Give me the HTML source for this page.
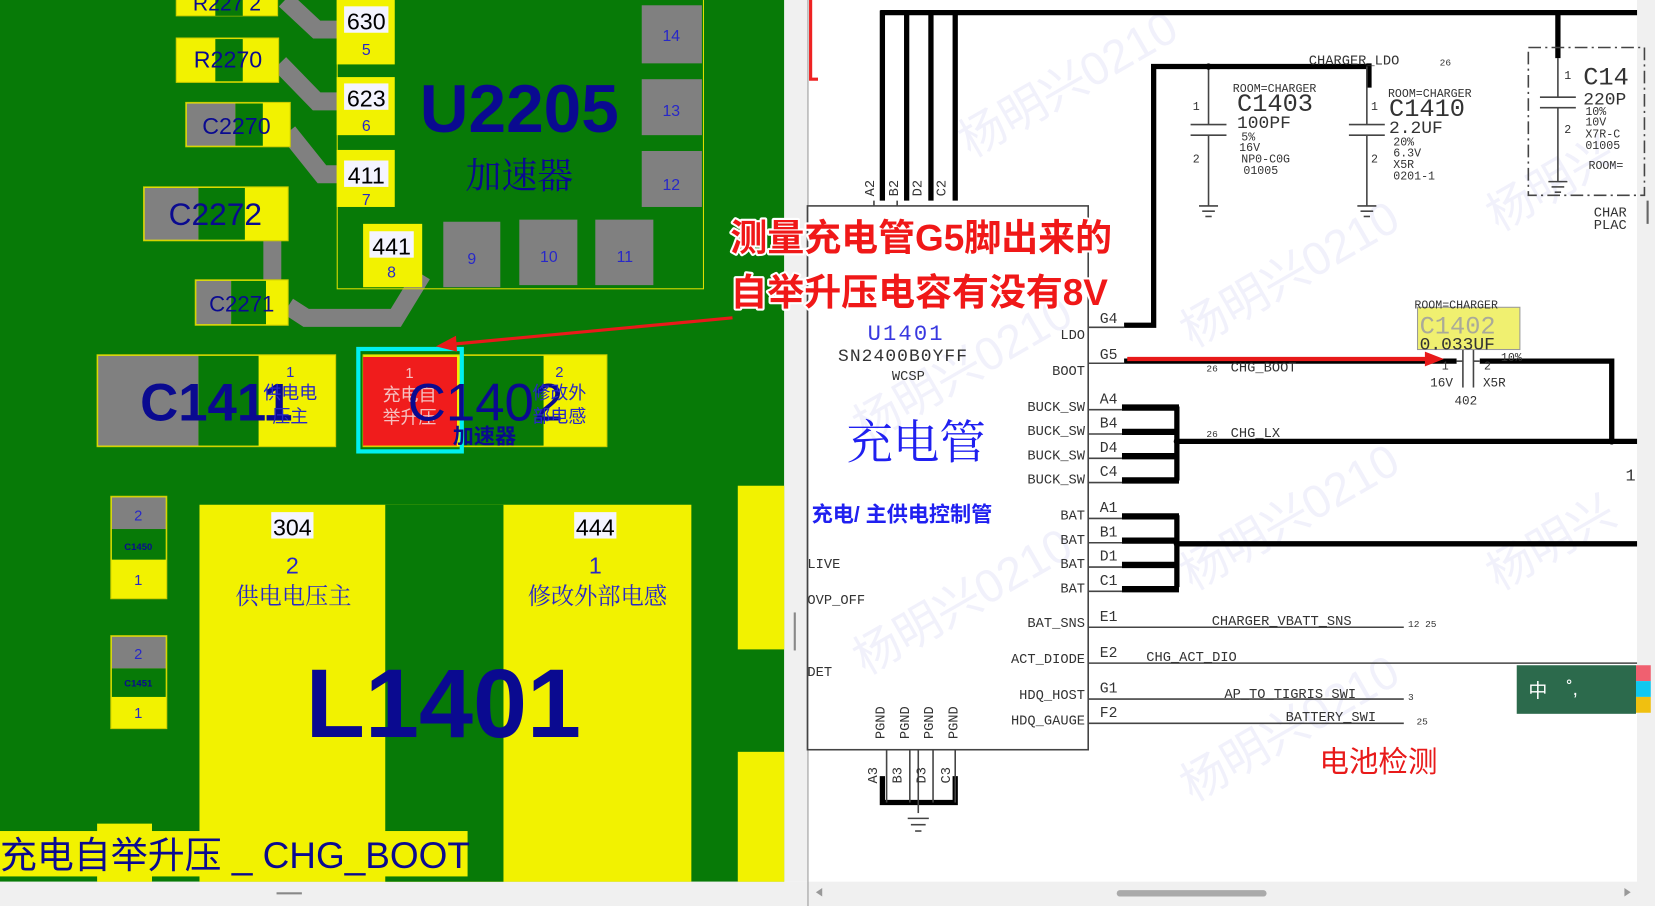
<!DOCTYPE html>
<html><head><meta charset="utf-8"><style>
html,body{margin:0;padding:0;background:#fff;overflow:hidden}
svg{display:block}
.m{font-family:"Liberation Mono",monospace;fill:#333}
.s{font-family:"Liberation Sans","Noto Sans CJK SC",sans-serif}
.c{font-family:"Liberation Sans","Noto Sans CJK SC",sans-serif}
</style></head><body>
<svg width="1655" height="906" viewBox="0 0 1568 858" preserveAspectRatio="none" xmlns="http://www.w3.org/2000/svg">
<!-- LEFT PCB -->
<rect x="0" y="0" width="743" height="835" fill="#077a07"/>
<rect x="0" y="835" width="765" height="23" fill="#f0f0f0"/>
<rect x="262" y="845" width="24" height="2" fill="#888"/>
<rect x="743" y="0" width="22" height="835" fill="#f0f0f0"/>
<rect x="752" y="580" width="2" height="36" fill="#888"/>
<line x1="765.5" y1="0" x2="765.5" y2="858" stroke="#999" stroke-width="1"/>
<g fill="none" stroke="#808080" stroke-width="17" stroke-linejoin="miter">
<polyline points="270,0 300,28 320,28"/>
<polyline points="265,60 300,96 320,96"/>
<polyline points="273,125 305,165 320,165"/>
<polyline points="258,228 258,265"/>
<polyline points="273,290 290,301 375,301 400,260"/>
</g>
<!-- R227x top -->
<rect x="167" y="-2" width="96" height="17" fill="#f2f200" stroke="#cc0" />
<rect x="204" y="-2" width="26" height="17" fill="#077a07"/>
<text x="215" y="10" class="s" font-size="20" fill="#0a0a90" text-anchor="middle">R227 2</text>
<!-- R2270 -->
<rect x="167" y="36" width="97" height="42" fill="#f2f200" stroke="#cc0"/>
<rect x="204" y="37" width="26" height="40" fill="#077a07"/>
<text x="216" y="64" class="s" font-size="22" fill="#0a0a90" text-anchor="middle">R2270</text>
<!-- C2270 -->
<rect x="176" y="97" width="99" height="42" fill="#f2f200" stroke="#cc0"/>
<rect x="177" y="98" width="46" height="40" fill="#808080"/>
<rect x="223" y="98" width="26" height="40" fill="#077a07"/>
<text x="224" y="127" class="s" font-size="22" fill="#0a0a90" text-anchor="middle">C2270</text>
<!-- C2272 -->
<rect x="136" y="177" width="137" height="51" fill="#f2f200" stroke="#cc0"/>
<rect x="137" y="178" width="51" height="49" fill="#808080"/>
<rect x="188" y="178" width="44" height="49" fill="#077a07"/>
<text x="204" y="213" class="s" font-size="30" fill="#0a0a90" text-anchor="middle">C2272</text>
<!-- C2271 -->
<rect x="185" y="265" width="88" height="43" fill="#f2f200" stroke="#cc0"/>
<rect x="186" y="266" width="33" height="41" fill="#808080"/>
<rect x="219" y="266" width="33" height="41" fill="#077a07"/>
<text x="229" y="295" class="s" font-size="21" fill="#0a0a90" text-anchor="middle">C2271</text>
<!-- U2205 -->
<rect x="319.5" y="-2" width="347" height="275.5" fill="none" stroke="#dede00" stroke-width="1"/>
<g class="s" text-anchor="middle">
<rect x="319" y="0" width="55" height="61" fill="#f2f200"/>
<rect x="326" y="6" width="42" height="25" fill="#f4f4ff"/>
<text x="347" y="28" font-size="22" fill="#000">630</text>
<text x="347" y="52" font-size="15" fill="#2828c8">5</text>
<rect x="319" y="73" width="55" height="55" fill="#f2f200"/>
<rect x="326" y="79" width="42" height="25" fill="#f4f4ff"/>
<text x="347" y="101" font-size="22" fill="#000">623</text>
<text x="347" y="124" font-size="15" fill="#2828c8">6</text>
<rect x="319" y="142" width="55" height="54" fill="#f2f200"/>
<rect x="326" y="152" width="42" height="25" fill="#f4f4ff"/>
<text x="347" y="174" font-size="22" fill="#000">411</text>
<text x="347" y="194" font-size="15" fill="#2828c8">7</text>
<rect x="344" y="212" width="56" height="60" fill="#f2f200"/>
<rect x="350" y="219" width="42" height="25" fill="#f4f4ff"/>
<text x="371" y="241" font-size="22" fill="#000">441</text>
<text x="371" y="263" font-size="15" fill="#2828c8">8</text>
<rect x="608" y="5" width="57" height="55" fill="#808080"/>
<text x="636" y="39" font-size="15" fill="#2828c8">14</text>
<rect x="608" y="75" width="57" height="53" fill="#808080"/>
<text x="636" y="110" font-size="15" fill="#2828c8">13</text>
<rect x="608" y="143" width="57" height="53" fill="#808080"/>
<text x="636" y="180" font-size="15" fill="#2828c8">12</text>
<rect x="420" y="210" width="54" height="62" fill="#808080"/>
<text x="447" y="250" font-size="15" fill="#2828c8">9</text>
<rect x="492" y="208" width="55" height="62" fill="#808080"/>
<text x="520" y="248" font-size="15" fill="#2828c8">10</text>
<rect x="564" y="208" width="55" height="62" fill="#808080"/>
<text x="592" y="248" font-size="15" fill="#2828c8">11</text>
<text x="492" y="125" font-size="64" font-weight="bold" fill="#0a0a90">U2205</text>
<text x="492" y="178" font-size="34" fill="#0a0a90" font-family="'Noto Serif CJK SC',serif">加速器</text>
</g>
<!-- C1411 -->
<rect x="92" y="336" width="226" height="87" fill="#f2f200" stroke="#cc0"/>
<rect x="93" y="337" width="95" height="85" fill="#808080"/>
<rect x="188" y="337" width="57" height="85" fill="#077a07"/>
<g class="s" text-anchor="middle">
<text x="205" y="398" font-size="50" font-weight="bold" fill="#0a0a90">C1411</text>
<text x="275" y="357" font-size="14" fill="#2828c8">1</text>
<text x="275" y="378" font-size="17" fill="#2828c8">供电电</text>
<text x="275" y="400" font-size="17" fill="#2828c8">压主</text>
</g>
<!-- C1402 -->
<rect x="344" y="336" width="231" height="87" fill="#f2f200" stroke="#cc0"/>
<rect x="439" y="337" width="76" height="85" fill="#077a07"/>
<rect x="344" y="338" width="89" height="84" fill="#f01c1c"/>
<rect x="339.5" y="330.5" width="98" height="97" fill="none" stroke="#00f0f0" stroke-width="4"/>
<g class="s" text-anchor="middle">
<text x="388" y="358" font-size="14" fill="#f5c0c0">1</text>
<text x="388" y="380" font-size="17" fill="#f5c0c0">充电自</text>
<text x="388" y="401" font-size="17" fill="#f5c0c0">举升压</text>
<text x="460" y="398" font-size="50" fill="#0a0a90">C1402</text>
<text x="530" y="357" font-size="14" fill="#2828c8">2</text>
<text x="530" y="378" font-size="17" fill="#2828c8">修改外</text>
<text x="530" y="400" font-size="17" fill="#2828c8">部电感</text>
<text x="459" y="420" font-size="20" font-weight="bold" fill="#0a0a90">加速器</text>
</g>
<!-- C1450 / C1451 -->
<g class="s" text-anchor="middle">
<rect x="105" y="470" width="53" height="97" fill="#f2f200" stroke="#cc0"/>
<rect x="106" y="471" width="51" height="30" fill="#808080"/>
<rect x="106" y="501" width="51" height="29" fill="#077a07"/>
<text x="131" y="493" font-size="14" fill="#2828c8">2</text>
<text x="131" y="521" font-size="9" font-weight="bold" fill="#0a0a90">C1450</text>
<text x="131" y="554" font-size="14" fill="#2828c8">1</text>
<rect x="105" y="602" width="53" height="88" fill="#f2f200" stroke="#cc0"/>
<rect x="106" y="603" width="51" height="30" fill="#808080"/>
<rect x="106" y="633" width="51" height="27" fill="#077a07"/>
<text x="131" y="624" font-size="14" fill="#2828c8">2</text>
<text x="131" y="650" font-size="9" font-weight="bold" fill="#0a0a90">C1451</text>
<text x="131" y="680" font-size="14" fill="#2828c8">1</text>
</g>
<!-- L1401 -->
<rect x="189" y="478" width="466" height="357" fill="#f2f200"/>
<rect x="365" y="478" width="112" height="357" fill="#077a07"/>
<g class="s" text-anchor="middle">
<rect x="257" y="485" width="40" height="25" fill="#f4f4ff"/>
<text x="277" y="507" font-size="22" fill="#000">304</text>
<rect x="544" y="485" width="40" height="25" fill="#f4f4ff"/>
<text x="564" y="507" font-size="22" fill="#000">444</text>
<text x="277" y="543" font-size="22" fill="#2828c8">2</text>
<text x="564" y="543" font-size="22" fill="#2828c8">1</text>
<text x="278" y="572" font-size="22" fill="#2828c8" font-family="'Noto Serif CJK SC',serif">供电电压主</text>
<text x="566" y="572" font-size="22" fill="#2828c8" font-family="'Noto Serif CJK SC',serif">修改外部电感</text>
<text x="420" y="698" font-size="92" font-weight="bold" fill="#0a0a90">L1401</text>
</g>
<rect x="699" y="460" width="44" height="155" fill="#f2f200"/>
<rect x="699" y="712" width="44" height="123" fill="#f2f200"/>
<rect x="92" y="780" width="52" height="55" fill="#f2f200"/>
<rect x="0" y="787" width="443" height="43" fill="#f2f200"/>
<text x="0" y="822" class="s" font-size="35" fill="#0a0a90">充电自举升压 _ CHG_BOOT</text>

<!-- RIGHT SCHEMATIC -->
<rect x="766" y="0" width="785" height="835" fill="#fff"/>
<rect x="1551" y="0" width="17" height="858" fill="#f0f0f0"/>
<rect x="766" y="835" width="785" height="23" fill="#f0f0f0"/>
<rect x="1058" y="843" width="142" height="6" rx="3" fill="#aaa"/>
<rect x="1560" y="190" width="2" height="22" fill="#666"/>
<g class="s" font-size="44" fill="#f1f1fb" >
<text transform="translate(920,150) rotate(-30)">杨明兴0210</text>
<text transform="translate(1130,330) rotate(-30)">杨明兴0210</text>
<text transform="translate(1130,560) rotate(-30)">杨明兴0210</text>
<text transform="translate(820,420) rotate(-30)">杨明兴0210</text>
<text transform="translate(820,640) rotate(-30)">杨明兴0210</text>
<text transform="translate(1420,220) rotate(-30)">杨明兴</text>
<text transform="translate(1420,560) rotate(-30)">杨明兴</text>
<text transform="translate(1130,760) rotate(-30)">杨明兴0210</text>
</g>
<polyline points="768,0 768,75 775,75" fill="none" stroke="#e22" stroke-width="3"/>
<g stroke="#000" stroke-width="5" fill="none">
<line x1="834" y1="12" x2="1551" y2="12"/>
<line x1="836" y1="10" x2="836" y2="190"/>
<line x1="859" y1="10" x2="859" y2="190"/>
<line x1="882" y1="10" x2="882" y2="190"/>
<line x1="905" y1="10" x2="905" y2="190"/>
<polyline points="1065,308 1093,308 1093,63 1298,63"/>
<line x1="1297" y1="60" x2="1297" y2="83"/>
<line x1="1476" y1="10" x2="1476" y2="55"/>
<line x1="1065" y1="342" x2="1380" y2="342"/>
<polyline points="1402,342 1527,342 1527,418"/>
<line x1="1115" y1="418" x2="1551" y2="418"/>
<line x1="1115" y1="515" x2="1551" y2="515"/>
<line x1="1115" y1="385" x2="1115" y2="455"/>
<line x1="1115" y1="488" x2="1115" y2="556"/>
<polyline points="836,735 836,760 905,760 905,735"/>
</g>
<g stroke="#000" stroke-width="6">
<line x1="1063" y1="386" x2="1117" y2="386"/>
<line x1="1063" y1="409" x2="1117" y2="409"/>
<line x1="1063" y1="432" x2="1117" y2="432"/>
<line x1="1063" y1="455" x2="1117" y2="455"/>
<line x1="1063" y1="489" x2="1117" y2="489"/>
<line x1="1063" y1="512" x2="1117" y2="512"/>
<line x1="1063" y1="535" x2="1117" y2="535"/>
<line x1="1063" y1="558" x2="1117" y2="558"/>
</g>
<g stroke="#444" stroke-width="1.5" fill="none">
<rect x="765" y="195" width="266" height="515"/>
<line x1="1031" y1="310" x2="1065" y2="310"/>
<line x1="1031" y1="344" x2="1065" y2="344"/>
<line x1="1031" y1="388" x2="1063" y2="388"/>
<line x1="1031" y1="411" x2="1063" y2="411"/>
<line x1="1031" y1="434" x2="1063" y2="434"/>
<line x1="1031" y1="457" x2="1063" y2="457"/>
<line x1="1031" y1="491" x2="1063" y2="491"/>
<line x1="1031" y1="514" x2="1063" y2="514"/>
<line x1="1031" y1="537" x2="1063" y2="537"/>
<line x1="1031" y1="560" x2="1063" y2="560"/>
<line x1="1031" y1="594" x2="1330" y2="594"/>
<line x1="1031" y1="628" x2="1551" y2="628"/>
<line x1="1031" y1="662" x2="1330" y2="662"/>
<line x1="1031" y1="685" x2="1330" y2="685"/>
<line x1="828" y1="190" x2="828" y2="195"/><line x1="850" y1="190" x2="850" y2="195"/>
<line x1="870" y1="710" x2="870" y2="770"/>
<line x1="840" y1="710" x2="840" y2="760"/><line x1="862" y1="710" x2="862" y2="760"/>
<line x1="884" y1="710" x2="884" y2="760"/><line x1="905" y1="710" x2="905" y2="760"/>
<line x1="860" y1="775" x2="880" y2="775"/><line x1="863" y1="781" x2="877" y2="781"/><line x1="867" y1="787" x2="873" y2="787"/>
<line x1="1145" y1="63" x2="1145" y2="118"/><line x1="1128" y1="118" x2="1162" y2="118"/>
<line x1="1128" y1="128" x2="1162" y2="128"/><line x1="1145" y1="128" x2="1145" y2="195"/>
<line x1="1136" y1="195" x2="1154" y2="195"/><line x1="1139" y1="200" x2="1151" y2="200"/><line x1="1142" y1="205" x2="1148" y2="205"/>
<line x1="1295" y1="63" x2="1295" y2="118"/><line x1="1278" y1="118" x2="1312" y2="118"/>
<line x1="1278" y1="128" x2="1312" y2="128"/><line x1="1295" y1="128" x2="1295" y2="195"/>
<line x1="1286" y1="195" x2="1304" y2="195"/><line x1="1289" y1="200" x2="1301" y2="200"/><line x1="1292" y1="205" x2="1298" y2="205"/>
<line x1="1476" y1="55" x2="1476" y2="92"/><line x1="1459" y1="92" x2="1493" y2="92"/>
<line x1="1459" y1="102" x2="1493" y2="102"/><line x1="1476" y1="102" x2="1476" y2="172"/>
<line x1="1467" y1="172" x2="1485" y2="172"/><line x1="1470" y1="177" x2="1482" y2="177"/><line x1="1473" y1="182" x2="1479" y2="182"/>
<rect x="1448" y="45" width="110" height="140" stroke-dasharray="12,4,2,4"/>
<line x1="1380" y1="342" x2="1386" y2="342"/><line x1="1396" y1="342" x2="1402" y2="342"/>
<line x1="1386" y1="330" x2="1386" y2="367"/><line x1="1396" y1="330" x2="1396" y2="367"/>
</g>
<circle cx="1145" cy="63" r="3"/><circle cx="1115" cy="418" r="3"/><circle cx="1115" cy="515" r="3"/><circle cx="1527" cy="418" r="3"/>
<g class="m" font-size="14">
<text x="1042" y="306">G4</text><text x="1042" y="340">G5</text>
<text x="1042" y="382">A4</text><text x="1042" y="405">B4</text><text x="1042" y="428">D4</text><text x="1042" y="451">C4</text>
<text x="1042" y="485">A1</text><text x="1042" y="508">B1</text><text x="1042" y="531">D1</text><text x="1042" y="554">C1</text>
<text x="1042" y="588">E1</text><text x="1042" y="622">E2</text><text x="1042" y="656">G1</text><text x="1042" y="679">F2</text>
</g>
<g class="m" font-size="13">
<g text-anchor="end">
<text x="1028" y="321">LDO</text><text x="1028" y="355">BOOT</text>
<text x="1028" y="389">BUCK_SW</text><text x="1028" y="412">BUCK_SW</text><text x="1028" y="435">BUCK_SW</text><text x="1028" y="458">BUCK_SW</text>
<text x="1028" y="492">BAT</text><text x="1028" y="515">BAT</text><text x="1028" y="538">BAT</text><text x="1028" y="561">BAT</text>
<text x="1028" y="594">BAT_SNS</text><text x="1028" y="628">ACT_DIODE</text><text x="1028" y="662">HDQ_HOST</text><text x="1028" y="686">HDQ_GAUGE</text>
</g>
<text x="765" y="538">LIVE</text><text x="765" y="572">OVP_OFF</text><text x="765" y="640">DET</text>
<text x="1148" y="592">CHARGER_VBATT_SNS</text><text x="1334" y="594" font-size="9">12 25</text>
<text x="1086" y="626">CHG_ACT_DIO</text>
<text x="1160" y="661">AP_TO_TIGRIS_SWI</text><text x="1334" y="663" font-size="9">3</text>
<text x="1218" y="683">BATTERY_SWI</text><text x="1342" y="686" font-size="9">25</text>
<text x="1240" y="61">CHARGER_LDO</text><text x="1364" y="62" font-size="9">26</text>
<text x="1166" y="352">CHG_BOOT</text><text x="1143" y="352" font-size="9">26</text>
<text x="1166" y="414">CHG_LX</text><text x="1143" y="414" font-size="9">26</text>
<text x="1540" y="455" font-size="16">1</text>
<text x="1510" y="205">CHAR</text><text x="1510" y="217">PLAC</text>
<text x="794" y="342" font-size="17" letter-spacing="1">SN2400B0YFF</text>
<text x="845" y="360">WCSP</text>
<text x="822" y="322" font-size="21" fill="#3838e0" letter-spacing="2">U1401</text>
<g font-size="13">
<text transform="translate(828,186) rotate(-90)">A2</text><text transform="translate(851,186) rotate(-90)">B2</text>
<text transform="translate(873,186) rotate(-90)">D2</text><text transform="translate(896,186) rotate(-90)">C2</text>
<text transform="translate(831,742) rotate(-90)">A3</text><text transform="translate(854,742) rotate(-90)">B3</text>
<text transform="translate(877,742) rotate(-90)">D3</text><text transform="translate(900,742) rotate(-90)">C3</text>
<text transform="translate(838,700) rotate(-90)">PGND</text><text transform="translate(861,700) rotate(-90)">PGND</text>
<text transform="translate(884,700) rotate(-90)">PGND</text><text transform="translate(907,700) rotate(-90)">PGND</text>
</g>
<text x="1168" y="87" font-size="11">ROOM=CHARGER</text>
<text x="1172" y="105" font-size="24">C1403</text><text x="1172" y="121" font-size="17">100PF</text>
<text x="1176" y="133" font-size="11">5%</text><text x="1174" y="143" font-size="11">16V</text><text x="1176" y="154" font-size="11">NP0-C0G</text><text x="1178" y="165" font-size="11">01005</text>
<text x="1130" y="104" font-size="11">1</text><text x="1130" y="154" font-size="11">2</text>
<text x="1315" y="92" font-size="11">ROOM=CHARGER</text>
<text x="1316" y="110" font-size="24">C1410</text><text x="1316" y="126" font-size="17">2.2UF</text>
<text x="1320" y="138" font-size="11">20%</text><text x="1320" y="148" font-size="11">6.3V</text><text x="1320" y="159" font-size="11">X5R</text><text x="1320" y="170" font-size="11">0201-1</text>
<text x="1299" y="104" font-size="11">1</text><text x="1299" y="154" font-size="11">2</text>
<text x="1500" y="80" font-size="24">C14</text><text x="1500" y="99" font-size="17">220P</text>
<text x="1502" y="109" font-size="11">10%</text><text x="1502" y="119" font-size="11">10V</text><text x="1502" y="130" font-size="11">X7R-C</text><text x="1502" y="141" font-size="11">01005</text>
<text x="1505" y="160" font-size="11">ROOM=</text>
<text x="1482" y="75" font-size="11">1</text><text x="1482" y="126" font-size="11">2</text>
<rect x="1343" y="291" width="97" height="40" fill="#f0f070" stroke="#999"/>
<text x="1340" y="292" font-size="11">ROOM=CHARGER</text>
<text x="1345" y="316" font-size="24" fill="#aa9">C1402</text>
<text x="1345" y="331" font-size="17">0.033UF</text>
<text x="1366" y="350" font-size="11">1</text><text x="1406" y="350" font-size="11">2</text><text x="1422" y="342" font-size="11">10%</text>
<text x="1355" y="366" font-size="12">16V</text><text x="1405" y="366" font-size="12">X5R</text><text x="1378" y="383" font-size="12">402</text>
</g>
<g class="c">
<text x="802" y="434" font-size="44" fill="#2020f0" font-family="'Noto Serif CJK SC',serif">充电管</text>
<text x="769" y="494" font-size="20" font-weight="bold" fill="#2020f0">充电/ 主供电控制管</text>
<text x="1250" y="731" font-size="28" fill="#e81a1a">电池检测</text>
</g>
<line x1="1068" y1="340" x2="1352" y2="340" stroke="#e81a1a" stroke-width="4"/>
<polygon points="1368,340 1350,333 1350,347" fill="#e81a1a"/>
<line x1="694" y1="301" x2="428" y2="326" stroke="#e81a1a" stroke-width="3"/>
<polygon points="413,328 432,318 433,333" fill="#e81a1a"/>
<g class="c" font-size="35" font-weight="bold" fill="#f01818" stroke="#fff" stroke-width="4" paint-order="stroke" stroke-linejoin="round">
<text x="692" y="237">测量充电管G5脚出来的</text>
<text x="692" y="289">自举升压电容有没有8V</text>
</g>
<rect x="1437" y="630" width="113" height="46" fill="#2c6a4c"/>
<text x="1448" y="660" class="c" font-size="18" fill="#fff">中</text>
<text x="1484" y="658" class="c" font-size="18" fill="#fff">˚,</text>
<rect x="1550" y="630" width="14" height="15" fill="#f06070"/>
<rect x="1550" y="645" width="14" height="15" fill="#10c8f0"/>
<rect x="1550" y="660" width="14" height="15" fill="#f0c010"/>
<polygon points="773,845 779,841 779,849" fill="#999"/>
<polygon points="1545,845 1539,841 1539,849" fill="#999"/>
</svg>
</body></html>
